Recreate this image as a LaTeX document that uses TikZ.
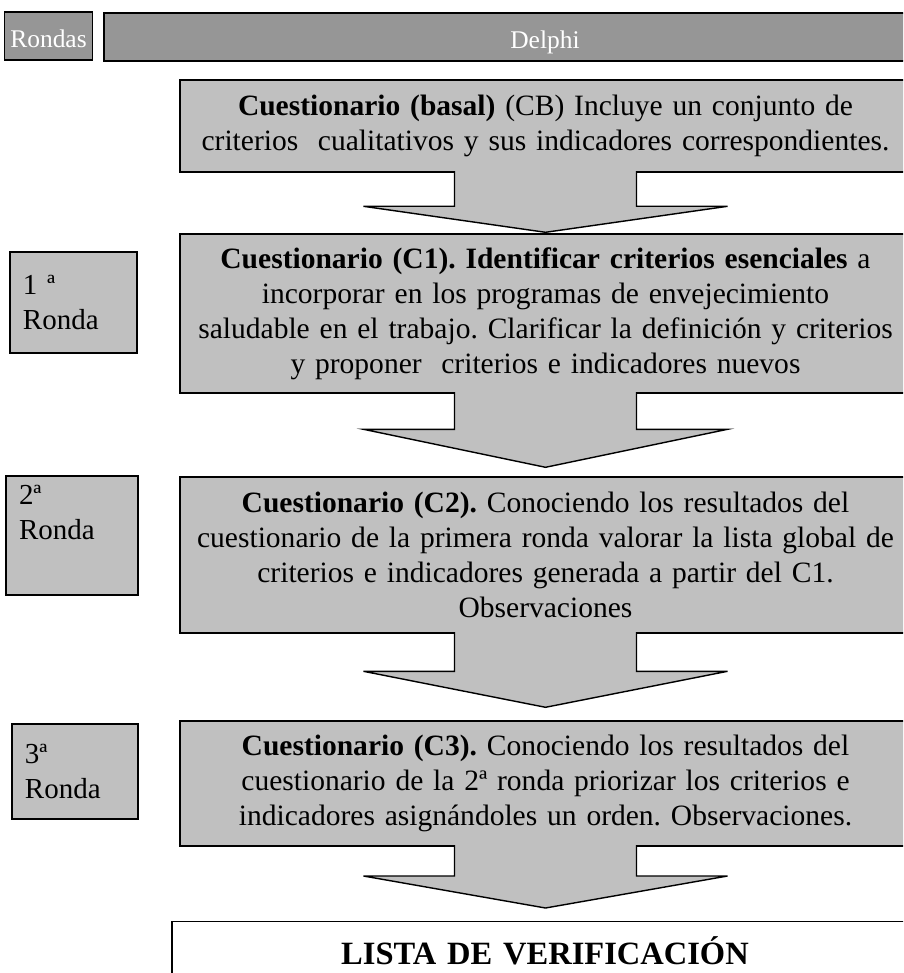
\documentclass[tikz,border=0pt]{standalone}
\usepackage{fontspec}
\setmainfont{Liberation Serif}
\frenchspacing

\definecolor{cajagris}{RGB}{192,192,192}
\definecolor{cabezagris}{RGB}{150,150,150}

\tikzset{
  cuadro/.style={draw, fill=cajagris, line width=0.8pt, align=center,
    inner xsep=0.1cm, text width=14.42cm, font=\fontsize{16.8}{19.9}\selectfont},
  ronda/.style={draw, fill=cajagris, line width=0.8pt, align=left,
    inner xsep=0.26cm, font=\fontsize{16.5}{19.9}\selectfont},
  titulo/.style={draw, fill=cabezagris, line width=0.8pt, text=white,
    minimum height=0.96cm, text height=13pt, text depth=0pt, font=\fontsize{14.5}{16}\selectfont},
  flecha/.style={draw, fill=cajagris, line width=0.8pt, line join=miter}
}

\begin{document}
\begin{tikzpicture}
\path[use as bounding box, clip] (0,0) rectangle (18.06,-19.46);

% cabeceras
\node[titulo, minimum width=1.74cm] (rondas) at (0.97,-0.72) {Rondas};
\node[titulo, minimum width=17.64cm] (delphi) at (10.9,-0.74) {Delphi};

% cuestionarios
\node[cuadro, minimum height=1.84cm] (cb) at (10.91,-2.52) {
\textbf{Cuestionario (basal)} (CB) Incluye un conjunto de\\
criterios \ cualitativos y sus indicadores correspondientes.};
\node[cuadro, minimum height=3.18cm] (c1) at (10.91,-6.27) {
\textbf{Cuestionario (C1). Identificar criterios esenciales} a\\
incorporar en los programas de envejecimiento\\
saludable en el trabajo. Clarificar la definición y criterios\\
y proponer \ criterios e indicadores nuevos};
\node[cuadro, minimum height=3.12cm] (c2) at (10.91,-11.10) {
\textbf{Cuestionario (C2).} Conociendo los resultados del\\
cuestionario de la primera ronda valorar la lista global de\\
criterios e indicadores generada a partir del C1.\\
Observaciones};
\node[cuadro, minimum height=2.5cm] (c3) at (10.91,-15.67) {
\textbf{Cuestionario (C3).} Conociendo los resultados del\\
cuestionario de la 2ª ronda priorizar los criterios e\\
indicadores asignándoles un orden. Observaciones.};
\node[cuadro, fill=white, anchor=north, inner ysep=0.3cm, text depth=1cm,
  text width=14.72cm, font=\fontsize{18.5}{20}\selectfont] (lista) at (10.9,-18.42) {\textbf{LISTA DE VERIFICACIÓN}};

% rondas
\node[ronda, minimum width=2.54cm, minimum height=2.02cm, text width=2.02cm] (r1) at (1.47,-6.05) {1 ª\\Ronda};
\node[ronda, minimum width=2.64cm, minimum height=2.38cm, text width=2.12cm] (r2) at (1.44,-10.71) {2ª\\Ronda\\\strut};
\node[ronda, minimum width=2.52cm, minimum height=1.9cm, text width=2.0cm] (r3) at (1.5,-15.43) {3ª\\Ronda};

% flechas entre cuestionarios
\foreach \a/\b/\h/\g in {cb/c1/0.52/0.02, c1/c2/0.76/0.18, c2/c3/0.72/0.26, c3/lista/0.64/0.26}{
  \coordinate (base) at ([yshift={(\g+\h)*1cm}]\a.south |- \b.north);
  \coordinate (punta) at ([yshift=\g cm]\a.south |- \b.north);
  \draw[flecha] ([xshift=-1.82cm,yshift=0.9pt]\a.south) -- ([xshift=-1.82cm]base)
    -- ([xshift=-3.64cm]base) -- (punta) -- ([xshift=3.64cm]base)
    -- ([xshift=1.82cm]base) -- ([xshift=1.82cm,yshift=0.9pt]\a.south);
}
\end{tikzpicture}
\end{document}
